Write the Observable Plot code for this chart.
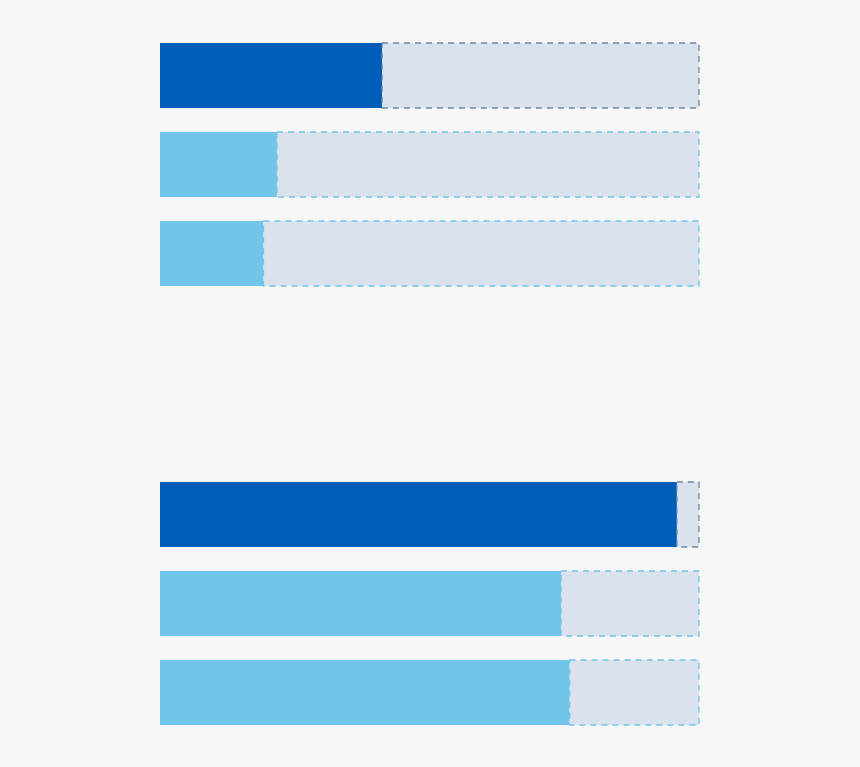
<!DOCTYPE html>
<html>
<head>
<meta charset="utf-8">
<script src="https://cdn.jsdelivr.net/npm/d3@7"></script>
<script src="https://cdn.jsdelivr.net/npm/@observablehq/plot@0.6"></script>
<style>
  html, body { margin: 0; padding: 0; background: #f7f7f7; }
  #chart svg { display: block; background: #f7f7f7; }
</style>
</head>
<body>
<div id="chart"></div>
<script>
const groups = ["top", "top", "top", "bottom", "bottom", "bottom"];
const rows = ["r1", "r2", "r3", "r1", "r2", "r3"];
const kinds = ["dark", "light", "light", "dark", "light", "light"];
const values = [41.2, 21.7, 19.2, 95.9, 74.4, 76.0];
const totals = [100, 100, 100, 100, 100, 100];

const data = values.map((v, i) => ({
  group: groups[i], row: rows[i], kind: kinds[i], value: v, total: totals[i]
}));

const restMark = (kind, stroke) => Plot.barX(data.filter(d => d.kind === kind), {
  x1: "value", x2: "total", y: "row", fy: "group",
  fill: "#dae2ed", stroke, strokeWidth: 1.3, strokeDasharray: "6,5"
});

const chart = Plot.plot({
  width: 860,
  height: 767,
  marginLeft: 160,
  marginRight: 161,
  marginTop: 18,
  marginBottom: 16.5,
  style: { background: "#f7f7f7" },
  x: { domain: [0, 100], axis: null },
  y: { domain: ["r1", "r2", "r3"], padding: 0.268, axis: null },
  fy: { domain: ["top", "bottom"], paddingInner: 0.335, paddingOuter: 0, axis: null },
  color: { domain: ["dark", "light"], range: ["#005eb8", "#71c5e8"] },
  marks: [
    Plot.barX(data, { x1: 0, x2: "value", y: "row", fy: "group", fill: "kind" }),
    restMark("dark", "#6d87a3"),
    restMark("light", "#71c5e8")
  ]
});
document.getElementById("chart").appendChild(chart);
</script>
</body>
</html>
